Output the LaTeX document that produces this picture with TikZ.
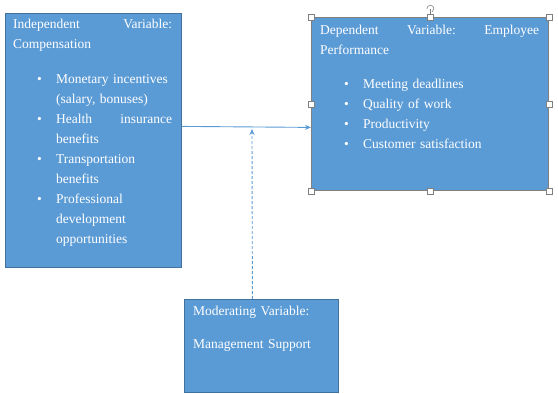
\documentclass[tikz,border=0pt]{standalone}
\usepackage{fontspec}
\setmainfont{Liberation Serif}
\usetikzlibrary{positioning,arrows.meta}

\definecolor{boxblue}{HTML}{5B9BD5}
\definecolor{boxedge}{HTML}{41719C}
\definecolor{selgray}{HTML}{808080}

% one bullet line of a variable box, \nl breaks inside it
\newcommand{\nl}{\hfil\break}
\newcommand{\bitem}[1]{\par\hangindent=43pt\hangafter=1\noindent\hspace*{24pt}\makebox[19pt][l]{\textbullet}#1}

\begin{document}
\begin{tikzpicture}[x=1pt,y=-1pt,
		varbox/.style={draw=boxedge,fill=boxblue,line width=0.8pt,anchor=north west,inner sep=0pt},
		boxtext/.style={text=white,inner sep=0pt,anchor=north west,font=\fontsize{13.5}{20}\selectfont},
		link/.style={draw=boxblue,line width=0.9pt,-{Stealth[length=6pt,width=5pt]}},
		grip/.style={draw=selgray,fill=white,rectangle,minimum size=6pt,inner sep=0pt,line width=0.5pt}]
	\useasboundingbox (0,0) rectangle (558,394);
	% the three variable boxes
	\node[varbox,minimum width=176pt,minimum height=254pt] (indep) at (5,13) {};
	\node[varbox,draw=selgray,minimum width=237pt,minimum height=173pt] (dep) at (311,17) {};
	\node[varbox,minimum width=154pt,minimum height=93pt] (moder) at (184,299) {};
	% their texts
	\node[boxtext,text width=159pt,below right=5.5pt and 8pt of indep.north west] (indeptext) {%
		Independent\hfill Variable:\nl Compensation\par\vspace{15pt}
		\bitem{Monetary incentives\nl (salary, bonuses)}
		\bitem{Health\hfill insurance\nl benefits}
		\bitem{Transportation\nl benefits}
		\bitem{Professional\nl development\nl opportunities}\par};
	\node[boxtext,text width=219pt,below right=7.5pt and 9pt of dep.north west] (deptext) {%
		Dependent\hfill Variable:\hfill Employee\nl Performance\par\vspace{14pt}
		\bitem{Meeting deadlines}
		\bitem{Quality of work}
		\bitem{Productivity}
		\bitem{Customer satisfaction}\par};
	\node[boxtext,text width=140pt,below right=6.7pt and 9pt of moder.north west] (modertext) {%
		Moderating Variable:\par\vspace{13pt}
		Management Support\par};
	% connectors
	\coordinate (meet) at (252,129);
	\draw[link] ([yshift=14pt]indep.east) -- ([yshift=-23.5pt]dep.west);
	\draw[link,dash pattern=on 3pt off 2pt] ([xshift=-9pt]moder.north) -- (meet);
	% selection handles round the dependent box
	\foreach \a [count=\i] in {north west,north,north east,east,south east,south,south west,west}
		\node[grip] (grip\i) at (dep.\a) {};
	\draw[selgray,line width=0.6pt] (grip2.north) -- ++(0,-5) coordinate (stem);
	\draw[selgray,line width=0.6pt] ([xshift=-3pt]stem) arc[start angle=180,end angle=-60,radius=3.5pt];
\end{tikzpicture}
\end{document}
